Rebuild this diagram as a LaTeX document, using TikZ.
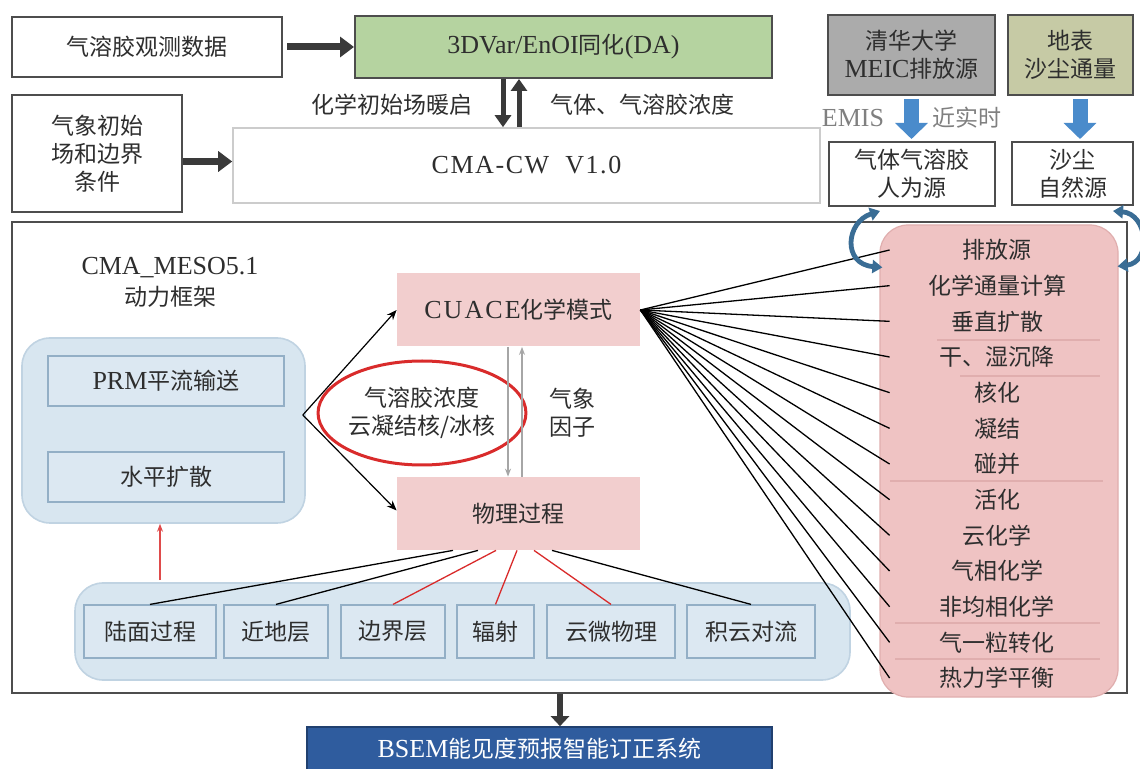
\documentclass[tikz,border=0pt]{standalone}
\usepackage{fontspec}
\setmainfont{Liberation Serif}
\newfontfamily\cjk{Noto Sans CJK SC}
\usetikzlibrary{arrows.meta,calc,shapes.geometric}
\newcommand\latn[1]{{\rmfamily\fontsize{13}{14}\selectfont #1}}
\definecolor{txt}{HTML}{2E2E2E}
\definecolor{dagreen}{HTML}{B5D3A0}
\definecolor{meicgray}{HTML}{ABABAB}
\definecolor{dustolive}{HTML}{C6CAA5}
\definecolor{pinkbox}{HTML}{F2CECE}
\definecolor{pinkcol}{HTML}{EFC3C3}
\definecolor{pinkline}{HTML}{E0AEAE}
\definecolor{lblue}{HTML}{D8E6F0}
\definecolor{lblueline}{HTML}{C0D3E2}
\definecolor{innerline}{HTML}{93AFC6}
\definecolor{innerfill}{HTML}{DCE8F2}
\definecolor{bsemblue}{HTML}{2F5C9E}
\definecolor{bluearr}{HTML}{4A8BCB}
\definecolor{circc}{HTML}{3A6D95}
\definecolor{redc}{HTML}{D92B2B}
\definecolor{framec}{HTML}{4D4D4D}
\definecolor{darkarr}{HTML}{3A3A3A}
\begin{document}
\begin{tikzpicture}[x=0.5pt,y=-0.5pt,
  every node/.style={font=\cjk\fontsize{11.5}{14}\selectfont, text=txt, align=center, inner sep=0pt},
  sz/.style 2 args={minimum width=#1*0.5pt, minimum height=#2*0.5pt},
  box/.style={draw=framec, line width=1pt, fill=white},
  lightbox/.style={draw=black!20, line width=0.8pt, fill=white},
  region/.style={draw=lblueline, line width=0.8pt, fill=lblue, rounded corners=14pt},
  innerbox/.style={draw=innerline, line width=0.6pt, fill=innerfill},
  pinkb/.style={fill=pinkbox},
  fatarrow/.style={draw=darkarr, line width=3.5pt, -{Triangle[length=7pt,width=10pt]}},
  medarrow/.style={draw=darkarr, line width=2.5pt, -{Triangle[length=6pt,width=8pt]}},
  bluearrow/.style={draw=bluearr, line width=7.5pt, -{Triangle[length=8pt,width=16pt]}},
  thinarrow/.style={draw=black, line width=0.6pt, -{Stealth[length=5pt,width=4pt]}},
  grayarrow/.style={draw=black!35, line width=0.6pt, -{Stealth[length=4pt,width=3pt]}},
  redarrow/.style={draw=redc!85, line width=0.6pt, -{Stealth[length=4pt,width=3pt]}},
  blk/.style={draw=black, line width=0.65pt},
  redl/.style={draw=redc, line width=0.65pt},
  circarrow/.style={draw=circc, line width=2.4pt, {Triangle[length=5pt,width=6.5pt]}-{Triangle[length=5pt,width=6.5pt]}},
  sepl/.style={draw=pinkline, line width=0.6pt}
]
\useasboundingbox (0,0) rectangle (1140,769);
\fill[white] (0,0) rectangle (1140,769);

% ---------- top area ----------
\node[box, sz={270}{60}] (obs) at (147,47) {气溶胶观测数据};
\node[box, fill=dagreen, sz={417}{62}] (da) at (563.5,47) {\latn{3DVar/EnOI}同化\latn{(DA)}};
\node[box, fill=meicgray, sz={167}{80}] (meic) at (911.5,55) {清华大学\\\latn{MEIC}排放源};
\node[box, fill=dustolive, sz={125}{80}] (dust) at (1070,55) {地表\\沙尘通量};
\node[box, sz={170}{117}] (met) at (97,153.5) {气象初始\\场和边界\\条件};
\node[lightbox, sz={587}{75}] (cma) at (526.5,165.5) {\latn{\addfontfeatures{LetterSpace=6}CMA-CW\ \ V1.0}};
\node[box, sz={166}{64}] (src1) at (912,174) {气体气溶胶\\人为源};
\node[box, sz={121}{63}] (src2) at (1072.5,173.5) {沙尘\\自然源};

\draw[fatarrow, shorten <=2pt] (obs.east) -- (da.west);
\draw[fatarrow] ([yshift=-4pt]met.east) -- ([yshift=-4pt]met.east -| cma.west);
\draw[medarrow] ([xshift=-30.25pt]da.south) -- ([xshift=-30.25pt]da.south |- cma.north);
\draw[medarrow] ([xshift=-22.25pt]da.south |- cma.north) -- ([xshift=-22.25pt]da.south);
\node (lw) at (392,105) {化学初始场暖启};
\node (lg) at (642,105) {气体、气溶胶浓度};

\draw[bluearrow, shorten <=1.5pt, shorten >=1pt] (meic.south) -- (meic.south |- src1.north);
\draw[bluearrow, shorten <=1.5pt, shorten >=1pt] ([xshift=5pt]dust.south) -- ([xshift=5pt]dust.south |- src2.north);
\node[text=black!50] (emis) at (853,118) {\latn{EMIS}};
\node[text=black!50] (nrt) at (967,118) {近实时};

% ---------- main frame ----------
\node[draw=framec, line width=1pt, sz={1115}{471}] (frame) at (569.5,457.5) {};

\node[region, sz={283}{185}] (dyn) at (163.5,430.5) {};
\node[innerbox, sz={236}{50}] (prm) at (166,381) {\latn{PRM}平流输送};
\node[innerbox, sz={236}{50}] (hdiff) at (166,477) {水平扩散};
\node (meso) at (170,268) {\latn{CMA\_MESO5.1}};
\node (dynl) at (170,297) {动力框架};

\node[pinkb, sz={243}{73}] (cuace) at (518.5,310) {\latn{\addfontfeatures{LetterSpace=8}CUACE}化学模式};
\node[pinkb, sz={243}{73}] (phys) at (518.5,513.5) {物理过程};

\node[draw=redc, line width=1.5pt, ellipse, sz={184}{104}] (ell) at (422,413) {气溶胶浓度\\云凝结核/冰核};

\draw[thinarrow] ($(dyn.east)+(-3,-15.5)$) -- (cuace.west);
\draw[thinarrow] ($(dyn.east)+(-3,-15.5)$) -- ([yshift=1.5pt]phys.west);
\draw[grayarrow] ([xshift=-5.25pt]cuace.south) -- ([xshift=-5.25pt]cuace.south |- phys.north);
\draw[grayarrow] ([xshift=1.75pt]phys.north) -- ([xshift=1.75pt]phys.north |- cuace.south);
\node (qx) at (572,413) {气象\\因子};

% bottom physics row
\node[region, sz={775}{97}] (bot) at (462.5,631.5) {};
\node[innerbox, sz={132}{53}] (b1) at (150,631.5) {陆面过程};
\node[innerbox, sz={104}{53}] (b2) at (276,631.5) {近地层};
\node[innerbox, sz={104}{53}] (b3) at (393,631.5) {边界层};
\node[innerbox, sz={77}{53}] (b4) at (495.5,631.5) {辐射};
\node[innerbox, sz={128}{53}] (b5) at (611,631.5) {云微物理};
\node[innerbox, sz={128}{53}] (b6) at (751,631.5) {积云对流};

\coordinate (rx) at ([xshift=-1.75pt]dyn.south);
\draw[redarrow] ($(rx |- bot.north)+(0,-2)$) -- (rx);

\draw[blk] ($(phys.south)+(-65.5,0)$) -- (b1.north);
\draw[blk] ($(phys.south)+(-40.5,0)$) -- (b2.north);
\draw[redl] ($(phys.south)+(-22.5,0)$) -- (b3.north);
\draw[redl] ($(phys.south)+(-1.5,0)$) -- (b4.north);
\draw[redl] ($(phys.south)+(15.5,0)$) -- (b5.north);
\draw[blk] ($(phys.south)+(33.5,0)$) -- (b6.north);

% output
\node[draw=bsemblue!70!black, line width=0.8pt, fill=bsemblue, text=white, sz={465}{44}] (bsem) at (539.5,749) {\latn{BSEM}能见度预报智能订正系统};
\draw[draw=darkarr, line width=3pt, -{Triangle[length=5pt,width=9pt]}] ([xshift=-4.75pt]frame.south) -- ([xshift=-4.75pt]frame.south |- bsem.north);

% ---------- CUACE process column ----------
\node[fill=pinkcol, draw=pinkline, line width=0.6pt, rounded corners=14pt, sz={238}{472}] (pcol) at (999,461) {};
\draw[sepl] (937,340) -- (1100,340);
\draw[sepl] (960,376) -- (1100,376);
\draw[sepl] (890,481) -- (1103,481);
\draw[sepl] (895,623) -- (1100,623);
\draw[sepl] (895,659) -- (1100,659);
\foreach \t [count=\i] in {排放源,化学通量计算,垂直扩散,干、湿沉降,核化,凝结,碰并,活化,云化学,气相化学,非均相化学,气一粒转化,热力学平衡}
  \node[sz={214}{30}] (p\i) at (997,{250+35.67*(\i-1)}) {\t};
\foreach \i in {1,...,13}
  \draw[blk] (cuace.east) -- (p\i.west);

% circular exchange arrows
\draw[circarrow] ($(pcol.north west)+(3,43)$) .. controls (842,264) and (846,222) .. ($(src1.south)+(-32,4)$);
\draw[circarrow] ($(pcol.north east)+(-1,42)$) .. controls (1152,262) and (1148,214) .. ($(src2.south)+(40.5,5)$);
\end{tikzpicture}
\end{document}
